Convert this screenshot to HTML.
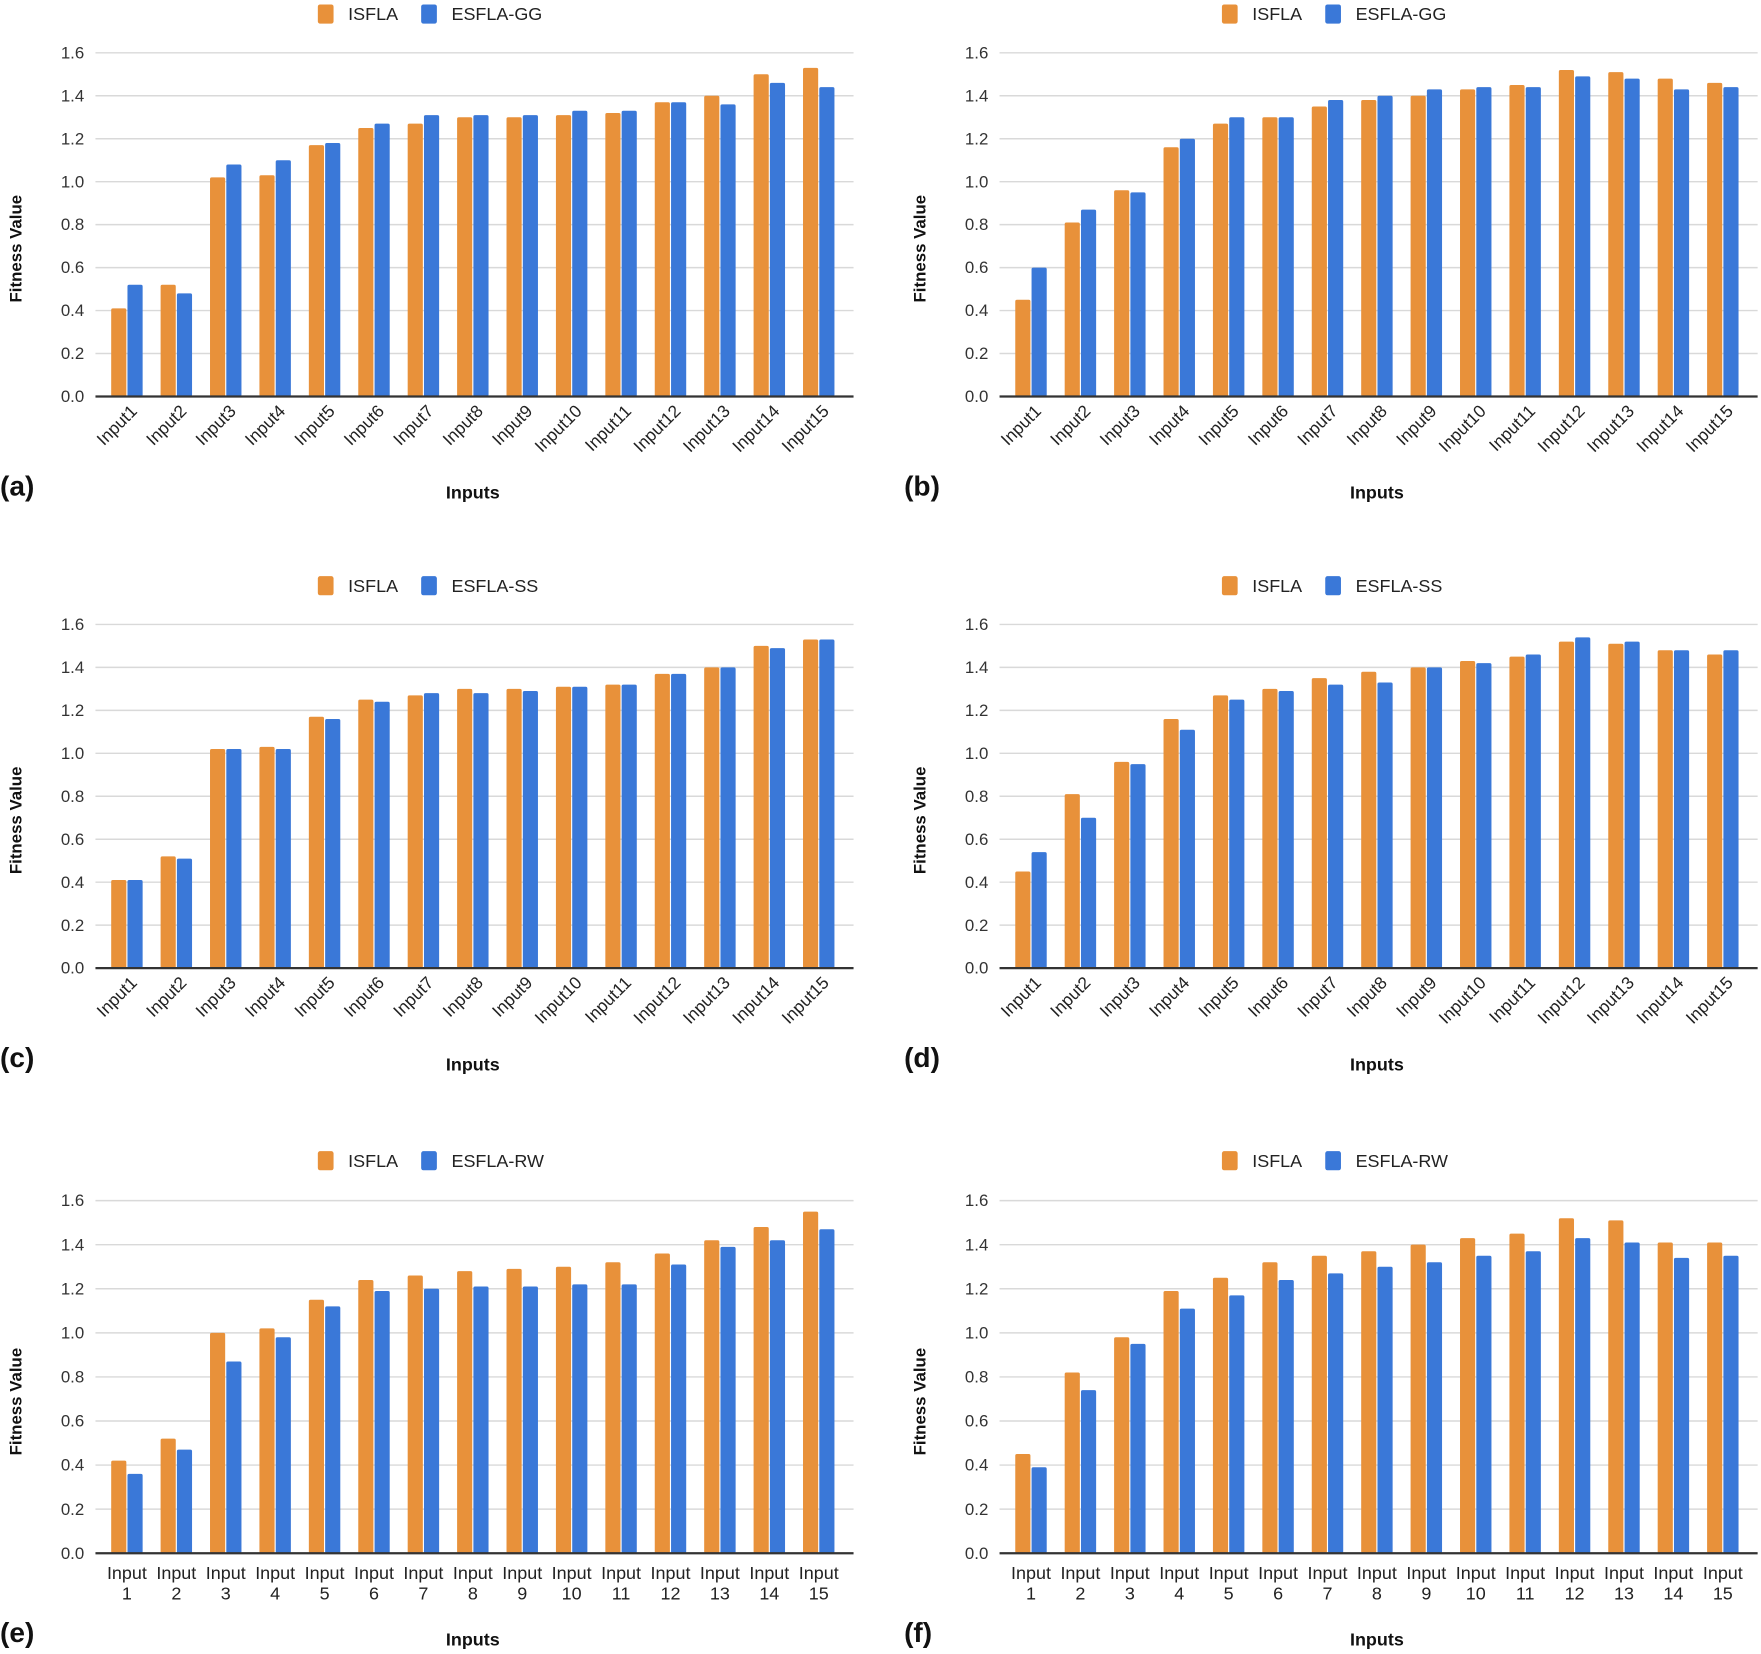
<!DOCTYPE html>
<html><head><meta charset="utf-8"><style>
html,body{margin:0;padding:0;background:#fff;}
svg{display:block;}
text{font-family:"Liberation Sans",sans-serif;}
</style></head><body>
<svg id="fig" width="1761" height="1654" viewBox="0 0 1568 1472.7" xmlns="http://www.w3.org/2000/svg"></svg>
<script>
const categories = ["1","2","3","4","5","6","7","8","9","10","11","12","13","14","15"];
const yTicks = [0,0.2,0.4,0.6,0.8,1.0,1.2,1.4,1.6];
const isflaA = [0.41,0.52,1.02,1.03,1.17,1.25,1.27,1.30,1.30,1.31,1.32,1.37,1.40,1.50,1.53];
const ggA    = [0.52,0.48,1.08,1.10,1.18,1.27,1.31,1.31,1.31,1.33,1.33,1.37,1.36,1.46,1.44];
const isflaB = [0.45,0.81,0.96,1.16,1.27,1.30,1.35,1.38,1.40,1.43,1.45,1.52,1.51,1.48,1.46];
const ggB    = [0.60,0.87,0.95,1.20,1.30,1.30,1.38,1.40,1.43,1.44,1.44,1.49,1.48,1.43,1.44];
const isflaC = [0.41,0.52,1.02,1.03,1.17,1.25,1.27,1.30,1.30,1.31,1.32,1.37,1.40,1.50,1.53];
const ssC    = [0.41,0.51,1.02,1.02,1.16,1.24,1.28,1.28,1.29,1.31,1.32,1.37,1.40,1.49,1.53];
const isflaD = [0.45,0.81,0.96,1.16,1.27,1.30,1.35,1.38,1.40,1.43,1.45,1.52,1.51,1.48,1.46];
const ssD    = [0.54,0.70,0.95,1.11,1.25,1.29,1.32,1.33,1.40,1.42,1.46,1.54,1.52,1.48,1.48];
const isflaE = [0.42,0.52,1.00,1.02,1.15,1.24,1.26,1.28,1.29,1.30,1.32,1.36,1.42,1.48,1.55];
const rwE    = [0.36,0.47,0.87,0.98,1.12,1.19,1.20,1.21,1.21,1.22,1.22,1.31,1.39,1.42,1.47];
const isflaF = [0.45,0.82,0.98,1.19,1.25,1.32,1.35,1.37,1.40,1.43,1.45,1.52,1.51,1.41,1.41];
const rwF    = [0.39,0.74,0.95,1.11,1.17,1.24,1.27,1.30,1.32,1.35,1.37,1.43,1.41,1.34,1.35];

const NS="http://www.w3.org/2000/svg";
const svg=document.getElementById('fig');
function mk(tag,attrs,parent){const e=document.createElementNS(NS,tag);for(const k in attrs)e.setAttribute(k,attrs[k]);(parent||svg).appendChild(e);return e;}
const OR="#E8913A", BL="#3A78D8";

function panel(id,ox,oy,y16,y0,s1,s2,name2,twoLine){
  const g=mk('g',{});
  
  
  const gl=85+ox, gr=760+ox, bandL=91+ox, bw=44;
  const yScale=v=>y0-(v/1.6)*(y0-y16);
  const xC=i=>bandL+bw*(i+0.5);
  const ly=oy+12;
  const l1=mk('rect',{x:283+ox,y:ly-8,width:14,height:17,rx:2,fill:OR},g);
  
  
  const t1=mk('text',{x:310+ox,y:ly+6,'font-size':16,fill:'#222'},g);t1.textContent='ISFLA';
  
  
  const l2=mk('rect',{x:375+ox,y:ly-8,width:14,height:17,rx:2,fill:BL},g);
  
  
  const t2=mk('text',{x:402+ox,y:ly+6,'font-size':16,fill:'#222'},g);t2.textContent=name2;
  
  
  yTicks.forEach(v=>{
    const y=yScale(v);
    if(v>0){const ln=mk('line',{x1:gl,x2:gr,y1:y,y2:y,stroke:'#d9d9d9','stroke-width':1.3},g);
      
      }
    const t=mk('text',{x:75+ox,y:y+5,'font-size':15,'text-anchor':'end',fill:'#333'},g);
    t.textContent=v.toFixed(1);
    
    
  });
  categories.forEach((c,i)=>{
    const cx=xC(i);
    const a=mk('rect',{x:cx-14,y:yScale(s1[i]),width:13.5,height:y0-yScale(s1[i]),rx:1.5,fill:OR},g);
    
    
    const b=mk('rect',{x:cx+0.5,y:yScale(s2[i]),width:13.5,height:y0-yScale(s2[i]),rx:1.5,fill:BL},g);
    
    
    if(twoLine){
      const t=mk('text',{x:cx,y:y0+23,'font-size':16,'text-anchor':'middle',fill:'#222'},g);
      t.textContent='Input';
      
      
      const t3=mk('text',{x:cx,y:y0+41,'font-size':16,'text-anchor':'middle',fill:'#222'},g);
      t3.textContent=c;
      
      
    } else {
      const tx=cx+10, ty=y0+14;
      const t=mk('text',{x:tx,y:ty,'font-size':15.5,'text-anchor':'end',fill:'#222',transform:'rotate(-45 '+tx+' '+ty+')'},g);
      t.textContent='Input'+c;
      
      
    }
  });
  const base=mk('line',{x1:gl,x2:gr,y1:y0,y2:y0,stroke:'#333','stroke-width':2},g);
  
  
  const yc=y0-0.43*(y0-y16);
  const yt=mk('text',{x:0,y:0,'font-size':15,'font-weight':'bold','text-anchor':'middle',fill:'#111',transform:'translate('+(19+ox)+' '+yc+') rotate(-90)'},g);
  yt.textContent='Fitness Value';
  
  
  const xt=mk('text',{x:421+ox,y:oy+444,'font-size':16,'font-weight':'bold','text-anchor':'middle',fill:'#111'},g);
  xt.textContent='Inputs';
  
  
  const pl=mk('text',{x:ox+0,y:oy+441,'font-size':25,'font-weight':'bold',fill:'#111'},g);
  pl.textContent='('+id+')';
  
  
}
panel('a',0,0,47,353,isflaA,ggA,'ESFLA-GG',false);
panel('b',805,0,47,353,isflaB,ggB,'ESFLA-GG',false);
panel('c',0,509,556,862,isflaC,ssC,'ESFLA-SS',false);
panel('d',805,509,556,862,isflaD,ssD,'ESFLA-SS',false);
panel('e',0,1021,1069,1383,isflaE,rwE,'ESFLA-RW',true);
panel('f',805,1021,1069,1383,isflaF,rwF,'ESFLA-RW',true);
</script>
</body></html>
